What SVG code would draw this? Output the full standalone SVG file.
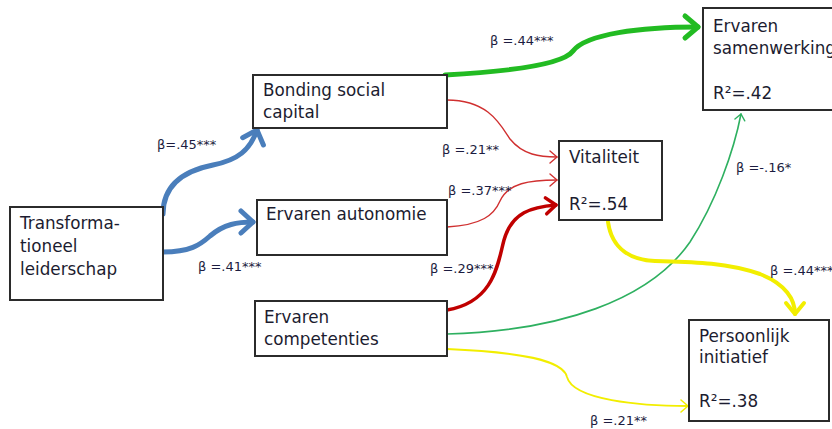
<svg xmlns="http://www.w3.org/2000/svg" width="832" height="429" viewBox="0 0 832 429">
<style>
.box{fill:#fff;stroke:#2b2b2b;stroke-width:2}
.t{font-family:"DejaVu Sans",sans-serif;font-size:16.8px;fill:#1c1c30}
.lb{font-family:"DejaVu Sans",sans-serif;font-size:13px;fill:#1c1c40}
.c{fill:none;stroke-linecap:round}
</style>
<defs>
<marker id="mBlue" markerUnits="userSpaceOnUse" markerWidth="40" markerHeight="40" refX="0" refY="0" orient="auto" overflow="visible"><path d="M-12,-11 L0,0 L-12,11" fill="none" stroke="#4a7ebb" stroke-width="5" stroke-linecap="round" stroke-linejoin="round"/></marker>
<marker id="mGreen" markerUnits="userSpaceOnUse" markerWidth="40" markerHeight="40" refX="0" refY="0" orient="auto" overflow="visible"><path d="M-13,-11 L0,0 L-13,11" fill="none" stroke="#22bb22" stroke-width="5" stroke-linecap="round" stroke-linejoin="round"/></marker>
<marker id="mRed" markerUnits="userSpaceOnUse" markerWidth="20" markerHeight="20" refX="0" refY="0" orient="auto" overflow="visible"><path d="M-7,-6 L0,0 L-7,6" fill="none" stroke="#d03030" stroke-width="1.4" stroke-linecap="round" stroke-linejoin="round"/></marker>
<marker id="mRedT" markerUnits="userSpaceOnUse" markerWidth="30" markerHeight="30" refX="0" refY="0" orient="auto" overflow="visible"><path d="M-10,-8 L0,0 L-10,8" fill="none" stroke="#c00000" stroke-width="3.5" stroke-linecap="round" stroke-linejoin="round"/></marker>
<marker id="mGreenT" markerUnits="userSpaceOnUse" markerWidth="20" markerHeight="20" refX="0" refY="0" orient="auto" overflow="visible"><path d="M-6,-5 L0,0 L-6,5" fill="none" stroke="#2eb060" stroke-width="1.4" stroke-linecap="round" stroke-linejoin="round"/></marker>
<marker id="mYel" markerUnits="userSpaceOnUse" markerWidth="30" markerHeight="30" refX="0" refY="0" orient="auto" overflow="visible"><path d="M-11,-9 L0,0 L-11,9" fill="none" stroke="#f2ee00" stroke-width="4" stroke-linecap="round" stroke-linejoin="round"/></marker>
<marker id="mYelT" markerUnits="userSpaceOnUse" markerWidth="20" markerHeight="20" refX="0" refY="0" orient="auto" overflow="visible"><path d="M-7,-6 L0,0 L-7,6" fill="none" stroke="#f2ee00" stroke-width="1.6" stroke-linecap="round" stroke-linejoin="round"/></marker>
</defs>
<rect width="832" height="429" fill="#fff"/>
<g id="connectors">
<path class="c" d="M163,214 C163,182 188,170 213,165 C238,160 250,150 257,130" stroke="#4a7ebb" stroke-width="5" marker-end="url(#mBlue)"/>
<path class="c" d="M163,252 C190,252 200,245 210,236 C224,224 238,222 253,222" stroke="#4a7ebb" stroke-width="5" marker-end="url(#mBlue)"/>
<path class="c" d="M445,75 C500,72 562,66 573,51 C586,34 640,27 698,27" stroke="#22bb22" stroke-width="5" marker-end="url(#mGreen)"/>
<path class="c" d="M447,100 C488,100 500,124 510,139 C523,155 540,157 557,157" stroke="#d03030" stroke-width="1.4" marker-end="url(#mRed)"/>
<path class="c" d="M447,227 C482,225 494,215 500,201 C508,183 530,180 557,180" stroke="#d03030" stroke-width="1.4" marker-end="url(#mRed)"/>
<path class="c" d="M447,310 C495,302 498,262 504,240 C512,212 532,207 556,205" stroke="#c00000" stroke-width="3.5" marker-end="url(#mRedT)"/>
<path class="c" d="M447,334 C560,331 650,300 690,242 C716,202 734,150 741,114" stroke="#2eb060" stroke-width="1.6" marker-end="url(#mGreenT)"/>
<path class="c" d="M447,349 C520,352 563,360 567,377 C573,400 640,406 688,406" stroke="#f2ee00" stroke-width="1.8" marker-end="url(#mYelT)"/>
<path class="c" d="M608,222 C612,250 632,260 655,261 C690,262 725,262 760,274 C786,284 795,300 795,314" stroke="#f2ee00" stroke-width="4" marker-end="url(#mYel)"/>
</g>
<g id="labels">
<text class="lb" x="157" y="149">β=.45***</text>
<text class="lb" x="198" y="271">β =.41***</text>
<text class="lb" x="490" y="45">β =.44***</text>
<text class="lb" x="442" y="154">β =.21**</text>
<text class="lb" x="448" y="195">β =.37***</text>
<text class="lb" x="430" y="273">β =.29***</text>
<text class="lb" x="736" y="172">β =-.16*</text>
<text class="lb" x="770" y="275">β =.44***</text>
<text class="lb" x="590" y="425">β =.21**</text>
</g>
<g id="transformationeel">
<rect class="box" x="10" y="207" width="153" height="93"/>
<text class="t" x="20" y="229">Transforma-</text>
<text class="t" x="20" y="252">tioneel</text>
<text class="t" x="20" y="275">leiderschap</text>
</g>
<g id="bonding">
<rect class="box" x="253" y="75" width="194" height="53"/>
<text class="t" x="263" y="96">Bonding social</text>
<text class="t" x="263" y="118">capital</text>
</g>
<g id="autonomie">
<rect class="box" x="257" y="200" width="190" height="55"/>
<text class="t" x="266" y="220">Ervaren autonomie</text>
</g>
<g id="competenties">
<rect class="box" x="255" y="301" width="192" height="55"/>
<text class="t" x="264" y="323">Ervaren</text>
<text class="t" x="264" y="345">competenties</text>
</g>
<g id="vitaliteit">
<rect class="box" x="559" y="141" width="103" height="79"/>
<text class="t" x="569" y="163">Vitaliteit</text>
<text class="t" x="569" y="210">R²=.54</text>
</g>
<g id="samenwerking">
<rect class="box" x="703" y="8" width="140" height="102"/>
<text class="t" x="713" y="32">Ervaren</text>
<text class="t" x="713" y="54">samenwerking</text>
<text class="t" x="713" y="99">R²=.42</text>
</g>
<g id="initiatief">
<rect class="box" x="689" y="320" width="140" height="101"/>
<text class="t" x="699" y="342">Persoonlijk</text>
<text class="t" x="699" y="363">initiatief</text>
<text class="t" x="699" y="407">R²=.38</text>
</g>
</svg>
